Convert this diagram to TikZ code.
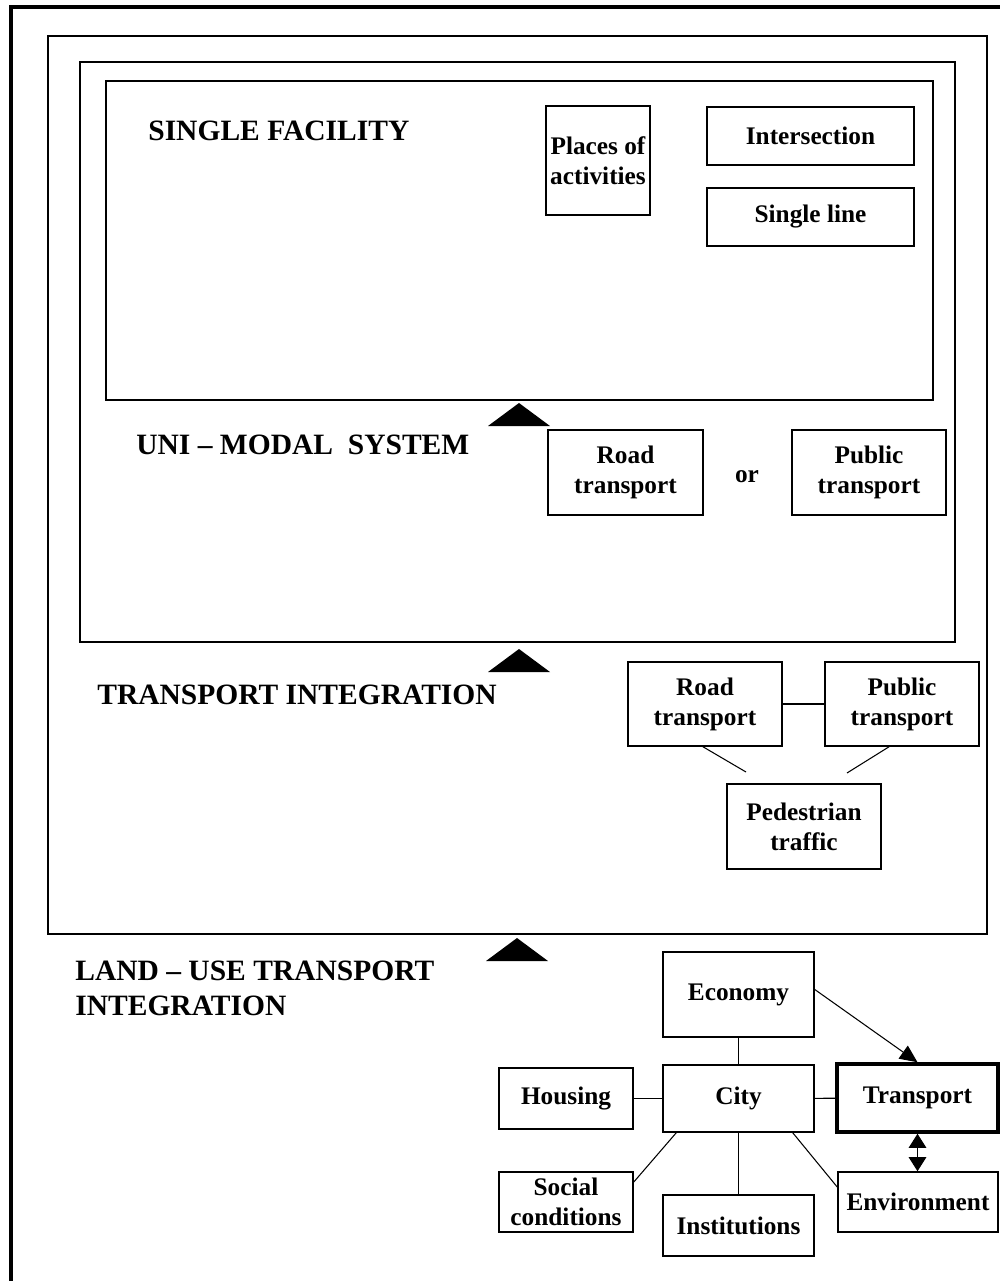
\documentclass[tikz,border=0pt]{standalone}
\usepackage{fontspec}
\setmainfont{Liberation Serif}
\usetikzlibrary{arrows.meta,calc}
\begin{document}
\begin{tikzpicture}[x=0.02cm,y=-0.02cm,
  level/.style={draw,line width=0.9pt},
  box/.style={draw,line width=0.9pt,inner sep=0pt,align=center,
    font=\fontsize{14.4}{17.1}\selectfont\bfseries},
  keybox/.style={box,line width=2pt},
  heading/.style={inner sep=0pt,align=left,
    font=\fontsize{16.8}{19.9}\selectfont\bfseries},
  link/.style={line width=0.6pt},
  flow/.style={link,-{Triangle[length=10pt,width=9pt]}},
  mutual/.style={link,{Triangle[length=8pt,width=10pt]}-{Triangle[length=8pt,width=10pt]}},
  stage/.style={fill=black}]
\useasboundingbox (0,0) rectangle (1000,1281);
\fill[white] (0,0) rectangle (1000,1281);

% outer frame
\draw[line width=2.2pt] (1000,7) -- (11,7) -- (11,1281);

% nested levels
\draw[level] (48,36) rectangle (987,934);
\draw[level] (80,62) rectangle (955,642);
\draw[level] (106,81) rectangle (933,400);

% stage markers
\fill[stage] (488,426) -- (550,426) -- (519,403) -- cycle;
\fill[stage] (488,672) -- (550,672) -- (519,649) -- cycle;
\fill[stage] (486,961) -- (548,961) -- (517,938) -- cycle;

% headings
\node[heading,anchor=west] (hsingle) at (148,131) {SINGLE FACILITY};
\node[heading,anchor=west] (huni) at (136,445) {UNI -- MODAL\ \ SYSTEM};
\node[heading,anchor=west] (hti) at (97,695) {TRANSPORT INTEGRATION};
\node[heading,anchor=north west] (hland) at (75,961) {LAND -- USE TRANSPORT\\INTEGRATION};

% single facility
\node[box,minimum width=2.08cm,minimum height=2.18cm] (places) at (598,160.5) {Places of\\activities};
\node[box,minimum width=4.14cm,minimum height=1.16cm] (inter) at (810.5,136) {Intersection};
\node[box,minimum width=4.14cm,minimum height=1.16cm] (sline) at (810.5,217) {Single line};

% uni-modal system
\node[box,minimum width=3.1cm,minimum height=1.7cm] (road1) at (625.5,472.5) {Road\\transport};
\node[box,minimum width=3.08cm,minimum height=1.7cm] (pub1) at (869,472.5) {Public\\transport};
\node[inner sep=0pt,font=\fontsize{14.4}{17.1}\selectfont\bfseries] (or) at (747,477) {or};

% transport integration
\node[box,minimum width=3.08cm,minimum height=1.68cm] (road2) at (705,704) {Road\\transport};
\node[box,minimum width=3.08cm,minimum height=1.68cm] (pub2) at (902,704) {Public\\transport};
\node[box,minimum width=3.08cm,minimum height=1.7cm] (ped) at (804,826.5) {Pedestrian\\traffic};
\draw[link] (road2) -- (pub2);
\coordinate (pedl) at (746,772);
\coordinate (pedr) at (847,773);
\draw[link] ($(road2.south)+(-2,0)$) -- (pedl);
\draw[link] ($(pub2.south)+(-13,0)$) -- (pedr);

% land-use transport integration
\node[box,minimum width=3.02cm,minimum height=1.7cm] (economy) at (738.5,994.5) {Economy};
\node[box,minimum width=3.02cm,minimum height=1.34cm] (city) at (738.5,1098.5) {City};
\node[box,minimum width=2.68cm,minimum height=1.22cm] (housing) at (566,1098.5) {Housing};
\node[keybox,minimum width=3.22cm,minimum height=1.36cm] (transport) at (917.5,1098) {Transport};
\node[box,minimum width=2.68cm,minimum height=1.2cm] (social) at (566,1202) {Social\\conditions};
\node[box,minimum width=3.02cm,minimum height=1.22cm] (inst) at (738.5,1225.5) {Institutions};
\node[box,minimum width=3.2cm,minimum height=1.2cm] (env) at (918,1202) {Environment};

\draw[link] (economy) -- (city);
\draw[link] (housing) -- (city);
\draw[link] (city) -- (transport);
\draw[link] (city) -- (inst);
\draw[link] ($(city.south west)+(14,0)$) -- ($(social.east)+(0,-20)$);
\draw[link] ($(city.south east)+(-22,0)$) -- ($(env.west)+(0,-15)$);
\draw[flow] ($(economy.east)+(0,-5)$) -- (transport.north);
\draw[mutual] (transport.south) -- (transport.south |- env.north);
\end{tikzpicture}
\end{document}
